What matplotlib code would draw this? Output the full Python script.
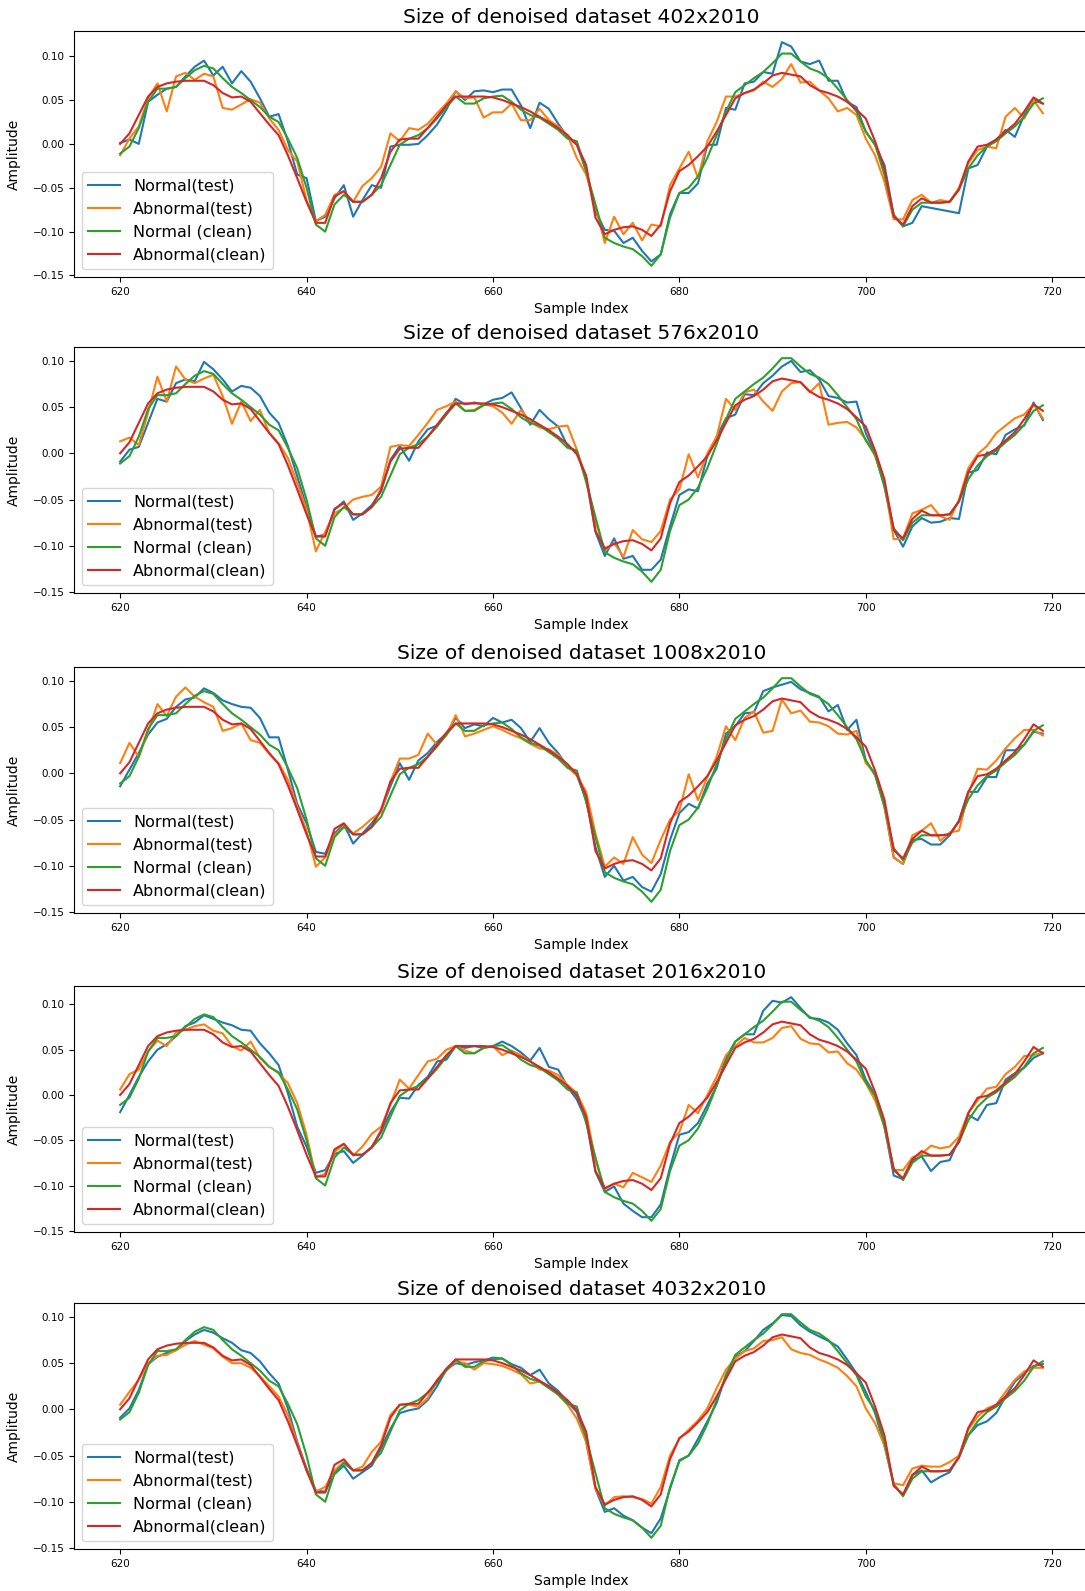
import numpy as np
import matplotlib
matplotlib.use('Agg')
import matplotlib.pyplot as plt

# sample index 620..719
idx = np.arange(620, 720)

sizes = ['402x2010', '576x2010', '1008x2010', '2016x2010', '4032x2010']

normal_clean = [
    -0.011, -0.003, 0.018, 0.048, 0.063, 0.063, 0.065, 0.075, 0.084, 0.089,
    0.086, 0.075, 0.065, 0.058, 0.050, 0.042, 0.031, 0.025, 0.006, -0.016,
    -0.050, -0.092, -0.100, -0.069, -0.058, -0.066, -0.066, -0.058, -0.047, -0.024,
    -0.001, 0.006, 0.010, 0.018, 0.029, 0.042, 0.054, 0.046, 0.046, 0.052,
    0.054, 0.055, 0.048, 0.039, 0.033, 0.030, 0.023, 0.016, 0.006, 0.003,
    -0.031, -0.069, -0.107, -0.113, -0.117, -0.120, -0.128, -0.139, -0.126, -0.084,
    -0.056, -0.050, -0.037, -0.016, 0.010, 0.037, 0.059, 0.067, 0.075, 0.082,
    0.092, 0.103, 0.103, 0.094, 0.086, 0.082, 0.075, 0.063, 0.050, 0.037,
    0.014, -0.001, -0.035, -0.081, -0.094, -0.075, -0.067, -0.067, -0.067, -0.066,
    -0.052, -0.028, -0.013, -0.003, 0.003, 0.012, 0.020, 0.031, 0.046, 0.052]

abnormal_clean = [
    0.000, 0.012, 0.033, 0.054, 0.065, 0.069, 0.071, 0.072, 0.072, 0.072,
    0.067, 0.058, 0.053, 0.054, 0.048, 0.035, 0.022, 0.010, -0.013, -0.039,
    -0.066, -0.090, -0.090, -0.060, -0.054, -0.066, -0.066, -0.058, -0.039, -0.009,
    0.005, 0.006, 0.006, 0.018, 0.031, 0.044, 0.054, 0.054, 0.054, 0.054,
    0.053, 0.050, 0.046, 0.042, 0.037, 0.031, 0.025, 0.018, 0.010, -0.001,
    -0.024, -0.084, -0.103, -0.098, -0.095, -0.094, -0.098, -0.105, -0.092, -0.054,
    -0.031, -0.024, -0.014, -0.003, 0.014, 0.033, 0.052, 0.058, 0.062, 0.069,
    0.078, 0.081, 0.079, 0.077, 0.067, 0.061, 0.058, 0.054, 0.048, 0.039,
    0.029, 0.003, -0.028, -0.083, -0.092, -0.071, -0.062, -0.067, -0.067, -0.066,
    -0.052, -0.020, -0.003, -0.001, 0.005, 0.014, 0.023, 0.037, 0.053, 0.046]

normal_test_402 = [
    0.001, 0.005, 0.000, 0.048, 0.056, 0.063, 0.065, 0.077, 0.088, 0.095,
    0.078, 0.088, 0.069, 0.083, 0.071, 0.052, 0.031, 0.034, 0.003, -0.035,
    -0.039, -0.088, -0.083, -0.062, -0.047, -0.083, -0.064, -0.047, -0.050, -0.003,
    -0.001, -0.001, 0.000, 0.010, 0.022, 0.039, 0.060, 0.050, 0.060, 0.061,
    0.059, 0.062, 0.062, 0.044, 0.018, 0.047, 0.040, 0.023, 0.008, -0.001,
    -0.031, -0.077, -0.098, -0.099, -0.113, -0.107, -0.122, -0.134, -0.126, -0.080,
    -0.056, -0.056, -0.045, -0.001, -0.001, 0.041, 0.039, 0.069, 0.071, 0.082,
    0.080, 0.116, 0.111, 0.094, 0.091, 0.095, 0.072, 0.072, 0.048, 0.042,
    0.014, -0.001, -0.024, -0.081, -0.094, -0.090, -0.071, -0.073, -0.075, -0.077,
    -0.079, -0.028, -0.024, -0.003, 0.005, 0.016, 0.008, 0.033, 0.050, 0.046]

abnormal_test_402 = [
    -0.013, 0.006, 0.020, 0.052, 0.069, 0.037, 0.077, 0.081, 0.073, 0.080,
    0.077, 0.041, 0.039, 0.045, 0.051, 0.047, 0.029, 0.016, -0.007, -0.020,
    -0.064, -0.088, -0.081, -0.058, -0.054, -0.066, -0.048, -0.039, -0.026, 0.012,
    0.003, 0.018, 0.016, 0.023, 0.035, 0.046, 0.060, 0.052, 0.053, 0.030,
    0.036, 0.036, 0.046, 0.027, 0.027, 0.040, 0.027, 0.020, 0.010, -0.016,
    -0.035, -0.071, -0.113, -0.083, -0.103, -0.090, -0.110, -0.092, -0.094, -0.047,
    -0.028, -0.009, -0.039, 0.003, 0.025, 0.054, 0.054, 0.058, 0.061, 0.071,
    0.065, 0.074, 0.091, 0.070, 0.071, 0.061, 0.052, 0.037, 0.041, 0.033,
    0.006, -0.013, -0.043, -0.086, -0.086, -0.064, -0.058, -0.067, -0.064, -0.066,
    -0.050, -0.022, -0.007, -0.003, -0.005, 0.031, 0.041, 0.029, 0.050, 0.035]

normal_test_576 = [
    -0.009, 0.004, 0.007, 0.033, 0.059, 0.056, 0.076, 0.080, 0.078, 0.099,
    0.091, 0.080, 0.067, 0.073, 0.071, 0.062, 0.044, 0.033, 0.008, -0.025,
    -0.058, -0.090, -0.088, -0.061, -0.052, -0.072, -0.065, -0.056, -0.041, -0.007,
    0.008, -0.008, 0.013, 0.026, 0.030, 0.042, 0.059, 0.053, 0.055, 0.053,
    0.058, 0.060, 0.066, 0.049, 0.031, 0.047, 0.037, 0.029, 0.008, 0.002,
    -0.027, -0.085, -0.111, -0.092, -0.114, -0.111, -0.126, -0.126, -0.115, -0.079,
    -0.045, -0.039, -0.041, -0.003, 0.018, 0.038, 0.042, 0.064, 0.063, 0.076,
    0.084, 0.094, 0.100, 0.088, 0.090, 0.080, 0.062, 0.060, 0.055, 0.056,
    0.022, -0.001, -0.036, -0.083, -0.101, -0.079, -0.070, -0.075, -0.074, -0.070,
    -0.071, -0.021, -0.018, 0.001, -0.001, 0.020, 0.026, 0.030, 0.055, 0.036]

abnormal_test_576 = [
    0.013, 0.017, 0.009, 0.044, 0.083, 0.056, 0.094, 0.080, 0.076, 0.081,
    0.085, 0.062, 0.032, 0.056, 0.035, 0.047, 0.022, 0.011, -0.005, -0.032,
    -0.061, -0.106, -0.085, -0.065, -0.059, -0.050, -0.047, -0.045, -0.036, 0.007,
    0.009, 0.008, 0.020, 0.033, 0.047, 0.051, 0.056, 0.046, 0.047, 0.053,
    0.051, 0.044, 0.032, 0.047, 0.034, 0.028, 0.026, 0.029, 0.030, 0.004,
    -0.027, -0.074, -0.105, -0.097, -0.112, -0.083, -0.093, -0.096, -0.084, -0.050,
    -0.039, -0.001, -0.026, 0.000, 0.018, 0.059, 0.047, 0.066, 0.069, 0.056,
    0.046, 0.067, 0.076, 0.077, 0.066, 0.076, 0.031, 0.033, 0.034, 0.028,
    0.015, -0.003, -0.032, -0.093, -0.092, -0.065, -0.061, -0.056, -0.068, -0.072,
    -0.050, -0.016, -0.001, 0.008, 0.022, 0.030, 0.038, 0.042, 0.053, 0.038]

normal_test_1008 = [
    -0.014, 0.004, 0.022, 0.042, 0.055, 0.059, 0.072, 0.080, 0.082, 0.092,
    0.087, 0.079, 0.075, 0.072, 0.071, 0.060, 0.039, 0.039, 0.004, -0.033,
    -0.054, -0.085, -0.087, -0.065, -0.055, -0.076, -0.065, -0.054, -0.040, -0.014,
    0.011, -0.007, 0.014, 0.022, 0.034, 0.043, 0.060, 0.049, 0.053, 0.051,
    0.060, 0.055, 0.058, 0.049, 0.034, 0.049, 0.033, 0.022, 0.007, -0.002,
    -0.029, -0.080, -0.112, -0.100, -0.116, -0.112, -0.123, -0.128, -0.109, -0.072,
    -0.043, -0.033, -0.038, -0.011, 0.005, 0.043, 0.051, 0.065, 0.066, 0.089,
    0.093, 0.096, 0.099, 0.091, 0.087, 0.083, 0.067, 0.074, 0.047, 0.058,
    0.014, -0.002, -0.036, -0.091, -0.098, -0.072, -0.071, -0.077, -0.077, -0.067,
    -0.051, -0.020, -0.020, -0.004, -0.004, 0.025, 0.025, 0.031, 0.045, 0.043]

abnormal_test_1008 = [
    0.011, 0.033, 0.018, 0.045, 0.075, 0.062, 0.083, 0.093, 0.083, 0.077,
    0.072, 0.046, 0.049, 0.054, 0.036, 0.033, 0.021, 0.011, -0.007, -0.036,
    -0.062, -0.101, -0.091, -0.067, -0.057, -0.065, -0.058, -0.049, -0.042, -0.009,
    0.016, 0.016, 0.020, 0.043, 0.031, 0.041, 0.063, 0.040, 0.043, 0.047,
    0.051, 0.047, 0.042, 0.038, 0.032, 0.027, 0.026, 0.020, 0.007, -0.002,
    -0.020, -0.065, -0.101, -0.091, -0.098, -0.069, -0.088, -0.097, -0.072, -0.050,
    -0.040, -0.001, -0.029, -0.004, 0.018, 0.051, 0.036, 0.060, 0.067, 0.044,
    0.046, 0.080, 0.065, 0.068, 0.056, 0.055, 0.051, 0.043, 0.042, 0.046,
    0.011, 0.000, -0.036, -0.091, -0.098, -0.067, -0.062, -0.054, -0.073, -0.064,
    -0.062, -0.022, 0.005, 0.004, 0.014, 0.027, 0.038, 0.047, 0.047, 0.041]

normal_test_2016 = [
    -0.019, 0.000, 0.020, 0.037, 0.050, 0.056, 0.065, 0.076, 0.080, 0.088,
    0.084, 0.080, 0.077, 0.072, 0.071, 0.057, 0.046, 0.033, 0.002, -0.035,
    -0.057, -0.086, -0.083, -0.065, -0.062, -0.075, -0.067, -0.057, -0.041, -0.019,
    -0.003, -0.004, 0.011, 0.020, 0.037, 0.039, 0.054, 0.052, 0.054, 0.052,
    0.054, 0.059, 0.054, 0.047, 0.038, 0.052, 0.031, 0.028, 0.009, -0.005,
    -0.028, -0.085, -0.107, -0.101, -0.120, -0.128, -0.135, -0.135, -0.121, -0.080,
    -0.044, -0.041, -0.031, -0.011, 0.010, 0.041, 0.059, 0.067, 0.067, 0.093,
    0.104, 0.102, 0.108, 0.096, 0.085, 0.084, 0.080, 0.072, 0.057, 0.044,
    0.017, 0.000, -0.035, -0.089, -0.093, -0.072, -0.068, -0.084, -0.074, -0.072,
    -0.049, -0.022, -0.028, -0.011, -0.009, 0.017, 0.024, 0.030, 0.041, 0.046]

abnormal_test_2016 = [
    0.006, 0.023, 0.028, 0.048, 0.060, 0.054, 0.069, 0.072, 0.076, 0.078,
    0.071, 0.068, 0.054, 0.049, 0.059, 0.041, 0.031, 0.024, 0.013, -0.009,
    -0.044, -0.091, -0.087, -0.063, -0.054, -0.067, -0.057, -0.043, -0.035, -0.011,
    0.017, 0.007, 0.022, 0.037, 0.040, 0.050, 0.054, 0.049, 0.046, 0.052,
    0.054, 0.044, 0.049, 0.044, 0.037, 0.028, 0.027, 0.022, 0.011, 0.002,
    -0.020, -0.072, -0.104, -0.098, -0.102, -0.086, -0.091, -0.096, -0.078, -0.052,
    -0.041, -0.011, -0.020, 0.000, 0.020, 0.044, 0.054, 0.063, 0.058, 0.058,
    0.063, 0.074, 0.076, 0.062, 0.057, 0.056, 0.047, 0.048, 0.035, 0.028,
    0.013, -0.006, -0.035, -0.083, -0.083, -0.069, -0.065, -0.056, -0.059, -0.057,
    -0.046, -0.020, -0.006, 0.007, 0.009, 0.023, 0.031, 0.043, 0.044, 0.047]

normal_test_4032 = [
    -0.009, 0.001, 0.021, 0.049, 0.057, 0.061, 0.064, 0.074, 0.081, 0.086,
    0.083, 0.077, 0.072, 0.064, 0.061, 0.052, 0.039, 0.028, 0.001, -0.035,
    -0.064, -0.088, -0.089, -0.070, -0.061, -0.075, -0.068, -0.061, -0.042, -0.021,
    -0.004, -0.001, 0.001, 0.010, 0.025, 0.043, 0.050, 0.048, 0.051, 0.053,
    0.056, 0.055, 0.049, 0.045, 0.037, 0.043, 0.028, 0.020, 0.008, -0.003,
    -0.035, -0.086, -0.111, -0.107, -0.115, -0.120, -0.128, -0.134, -0.118, -0.086,
    -0.055, -0.050, -0.032, -0.013, 0.007, 0.037, 0.057, 0.063, 0.074, 0.086,
    0.093, 0.102, 0.101, 0.091, 0.084, 0.079, 0.074, 0.068, 0.054, 0.039,
    0.019, -0.004, -0.039, -0.082, -0.093, -0.071, -0.066, -0.079, -0.073, -0.068,
    -0.051, -0.028, -0.017, -0.013, -0.004, 0.014, 0.030, 0.039, 0.047, 0.049]

abnormal_test_4032 = [
    0.005, 0.019, 0.032, 0.050, 0.058, 0.059, 0.064, 0.070, 0.074, 0.070,
    0.066, 0.057, 0.050, 0.050, 0.045, 0.036, 0.025, 0.014, -0.006, -0.037,
    -0.066, -0.089, -0.084, -0.066, -0.057, -0.066, -0.062, -0.046, -0.035, -0.006,
    0.005, 0.005, 0.003, 0.012, 0.032, 0.043, 0.052, 0.050, 0.043, 0.050,
    0.049, 0.047, 0.043, 0.038, 0.028, 0.030, 0.025, 0.016, 0.005, -0.010,
    -0.035, -0.086, -0.104, -0.095, -0.094, -0.095, -0.097, -0.102, -0.084, -0.050,
    -0.032, -0.022, -0.012, 0.001, 0.023, 0.043, 0.055, 0.063, 0.066, 0.074,
    0.075, 0.078, 0.065, 0.061, 0.059, 0.054, 0.050, 0.045, 0.036, 0.025,
    0.001, -0.015, -0.039, -0.080, -0.082, -0.064, -0.061, -0.062, -0.062, -0.057,
    -0.050, -0.022, -0.008, 0.001, 0.005, 0.019, 0.032, 0.041, 0.045, 0.045]

normal_tests = [normal_test_402, normal_test_576, normal_test_1008,
                normal_test_2016, normal_test_4032]
abnormal_tests = [abnormal_test_402, abnormal_test_576, abnormal_test_1008,
                  abnormal_test_2016, abnormal_test_4032]

W, H = 1085, 1591
fig = plt.figure(figsize=(W / 100, H / 100), dpi=100)

# axes tops in pixels from the top of the figure
tops = [31, 347, 667, 986, 1303]
ax_h = 246
ax_l, ax_r = 74, 1089

for i, size in enumerate(sizes):
    rect = [ax_l / W, (H - tops[i] - ax_h) / H, (ax_r - ax_l) / W, ax_h / H]
    ax = fig.add_axes(rect)
    ax.plot(idx, normal_tests[i], color='tab:blue', lw=1.5, label='Normal(test)')
    ax.plot(idx, abnormal_tests[i], color='tab:orange', lw=1.5, label='Abnormal(test)')
    ax.plot(idx, normal_clean, color='tab:green', lw=1.5, label='Normal (clean)')
    ax.plot(idx, abnormal_clean, color='tab:red', lw=1.5, label='Abnormal(clean)')

    ax.set_title('Size of denoised dataset ' + size, fontsize=14.5)
    ax.set_xlabel('Sample Index', fontsize=10)
    ax.set_ylabel('Amplitude', fontsize=10, labelpad=8)
    ax.set_xticks([620, 640, 660, 680, 700, 720])
    ax.set_yticks([0.10, 0.05, 0.00, -0.05, -0.10, -0.15])
    ax.tick_params(labelsize=7.5)
    ax.legend(loc='lower left', fontsize=11.5)

fig.savefig('out.png', dpi=100)
